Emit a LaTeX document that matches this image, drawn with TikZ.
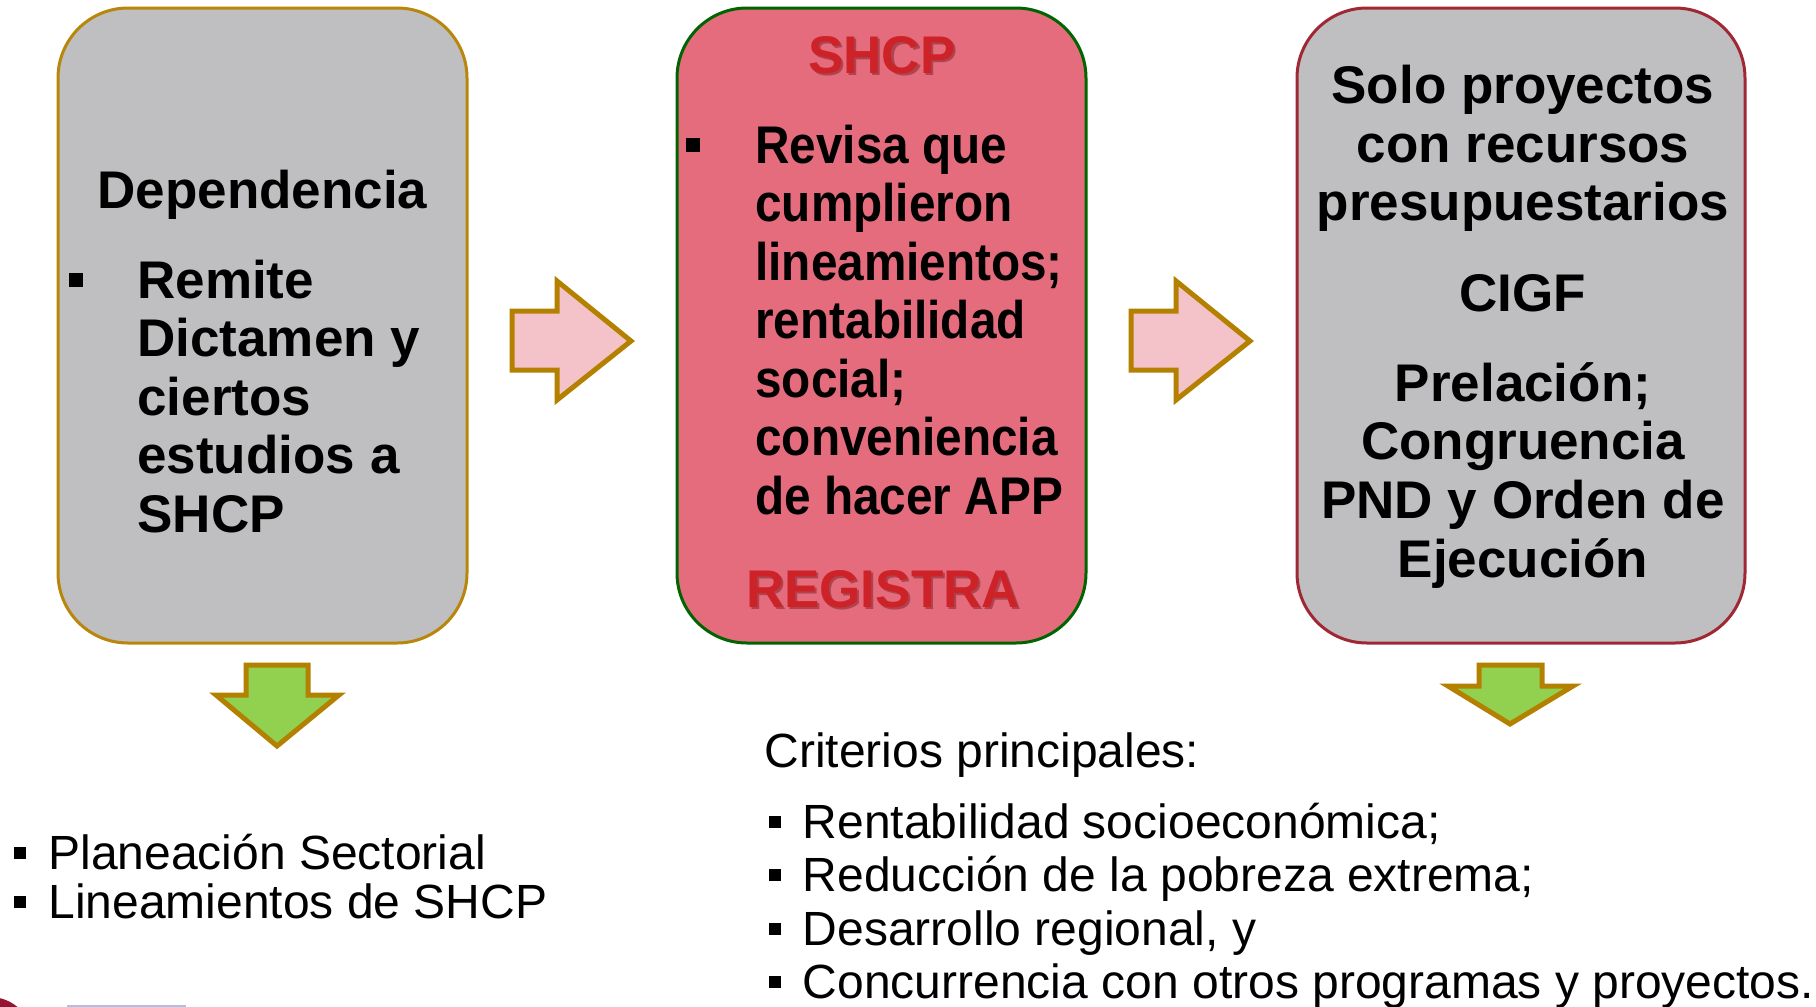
\documentclass[tikz,border=0pt]{standalone}
\usepackage{fontspec}
\setmainfont{Liberation Sans}
\definecolor{boxgray}{RGB}{191,191,193}
\definecolor{boxpink}{RGB}{228,108,125}
\definecolor{goldline}{RGB}{184,134,11}
\definecolor{greenline}{RGB}{0,100,0}
\definecolor{wineline}{RGB}{160,40,52}
\definecolor{arrowline}{RGB}{179,128,0}
\definecolor{pinkarrow}{RGB}{244,194,201}
\definecolor{greenarrow}{RGB}{146,208,80}
\definecolor{titlered}{RGB}{205,35,40}
\definecolor{titleshade}{RGB}{120,30,35}
\definecolor{logored}{RGB}{150,20,50}
\definecolor{logoblue}{RGB}{176,190,225}
\begin{document}
\begin{tikzpicture}[x=0.5pt, y=-0.5pt,
  box/.style = {draw, line width=1.5pt, rounded corners=35pt,
    minimum width=204.5pt, inner sep=0pt},
  blockarrow/.style = {draw=arrowline, line width=2.5pt, miter limit=10},
  big/.style = {font=\fontsize{26.5}{29}\selectfont\bfseries, inner sep=0pt},
  title/.style = {big, text=titlered},
  small/.style = {font=\fontsize{24}{26}\selectfont, inner sep=0pt},
  sq/.style = {fill=black, minimum size=7pt, inner sep=0pt},
  smallsq/.style = {fill=black, minimum size=6pt, inner sep=0pt}]
  \useasboundingbox (0,0) rectangle (1816,1007);

  \node[box, draw=goldline, fill=boxgray, minimum height=317.5pt] (dep) at (262.5,325.5) {};
  \node[box, draw=greenline, fill=boxpink, minimum height=317.5pt] (shcp) at (881.5,325.5) {};
  \node[box, draw=wineline, fill=boxgray, minimum height=317.5pt,
    minimum width=224pt] (cigf) at (1521,325.5) {};

  \node[big, anchor=base] (deptitle) at (262.5,208) {Dependencia};
  \node[sq] (depsq) at (75.5,280) {};
  \foreach \t [count=\i from 0] in {Remite, Dictamen y, ciertos, estudios a, SHCP}
    \node[big, anchor=base west] (dep\i) at (137, 298+58.5*\i) {\t};

  \node[big, anchor=base, text=titleshade, opacity=.5] (shcpshade) at (884,75) {SHCP};
  \node[title, anchor=base] (shcptitle) at (882,73) {SHCP};
  \node[sq] (shcpsq) at (693,145) {};
  \foreach \t [count=\i from 0] in {Revisa que, cumplieron, lineamientos;,
      rentabilidad, social;, conveniencia, de hacer APP}
    \node[big, anchor=base west] (rev\i) at (755, 163+58.5*\i) {\scalebox{0.9}[1]{\t}};
  \node[big, anchor=base, text=titleshade, opacity=.5] (regshade) at (885,609) {REGISTRA};
  \node[title, anchor=base] (registra) at (883,607) {REGISTRA};

  \foreach \t/\yy [count=\i] in {Solo proyectos/103, con recursos/162,
      presupuestarios/220.5, CIGF/311, Prelación;/401, Congruencia/459.5,
      PND y Orden de/518, Ejecución/577}
    \node[big, anchor=base] (cigf\i) at (1523,\yy) {\t};

  \draw[blockarrow, fill=pinkarrow] (512,311) -- (557,311) -- (557,281) -- (631,341)
    -- (557,400) -- (557,370) -- (512,370) -- cycle;
  \draw[blockarrow, fill=pinkarrow] (1131,311) -- (1176,311) -- (1176,281) -- (1250,341)
    -- (1176,400) -- (1176,370) -- (1131,370) -- cycle;
  \draw[blockarrow, fill=greenarrow] (246,665) -- (308,665) -- (308,695) -- (339,695)
    -- (277,746) -- (216,695) -- (246,695) -- cycle;
  \draw[blockarrow, fill=greenarrow] (1479,665) -- (1542,665) -- (1542,686) -- (1573,686)
    -- (1510,724) -- (1448,686) -- (1479,686) -- cycle;

  \foreach \t/\yy [count=\i] in {Planeación Sectorial/869, Lineamientos de SHCP/918} {
    \node[smallsq] (plsq\i) at (19.5,\yy-16) {};
    \node[small, anchor=base west] (pl\i) at (48,\yy) {\t};
  }

  \node[small, anchor=base west] (crit) at (764,767) {Criterios principales:};
  \foreach \t/\yy [count=\i] in {Rentabilidad socioeconómica;/838,
      Reducción de la pobreza extrema;/891, {Desarrollo regional, y}/945,
      Concurrencia con otros programas y proyectos./998} {
    \node[smallsq] (critsq\i) at (775,\yy-16) {};
    \node[small, anchor=base west] (crit\i) at (802.5,\yy) {\t};
  }

  \begin{scope}
    \clip (0,0) rectangle (1816,1007);
    \fill[logored] (-10,1040) circle (21.5pt);
    \fill[logoblue] (67,1005) rectangle (186,1012);
  \end{scope}
\end{tikzpicture}
\end{document}
